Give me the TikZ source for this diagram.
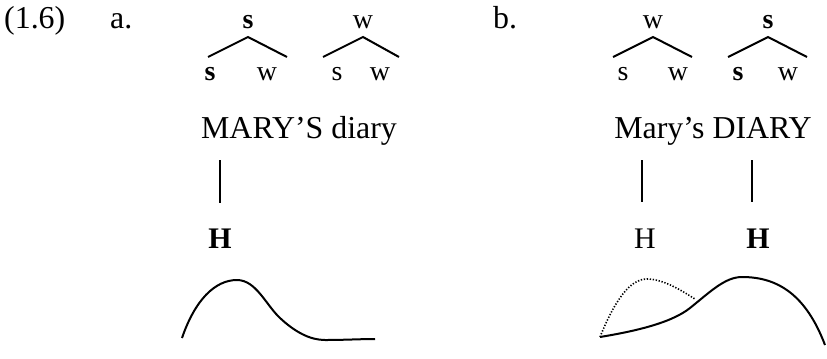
\documentclass[tikz,border=0pt]{standalone}
\usepackage{fontspec}
\setmainfont{Liberation Serif}
\begin{document}
\begin{tikzpicture}[x=1bp,y=-1bp,
  txt/.style={font=\fontsize{32}{36}\selectfont, inner sep=0pt, anchor=base},
  lab/.style={font=\fontsize{28}{32}\selectfont, inner sep=0pt, anchor=base},
  tone/.style={font=\fontsize{30}{34}\selectfont, inner sep=0pt, anchor=base},
  branch/.style={line width=2bp},
  assoc/.style={line width=1.7bp},
  contour/.style={line width=2bp},
  alt/.style={line width=1.6bp, dash pattern=on 1.3bp off 1.7bp}]
\useasboundingbox (0,0) rectangle (827,358);
% labels
\node[txt, anchor=base west] (ex) at (4,28) {(1.6)};
\node[txt, anchor=base west] (la) at (110,28) {a.};
\node[txt, anchor=base west] (lb) at (493,28) {b.};
% --- a: trees
\node[lab] (a1top) at (248,28) {\textbf{s}};
\coordinate (a1apex) at (248,37);
\coordinate (a1l) at (208,57);
\coordinate (a1r) at (287,57);
\draw[branch] (a1l) -- (a1apex) -- (a1r);
\node[lab] (a1s) at (210,80) {\textbf{s}};
\node[lab] (a1w) at (267,80) {w};
\node[lab] (a2top) at (363,28) {w};
\coordinate (a2apex) at (363,37);
\coordinate (a2l) at (323,57);
\coordinate (a2r) at (399,57);
\draw[branch] (a2l) -- (a2apex) -- (a2r);
\node[lab] (a2s) at (337,80) {s};
\node[lab] (a2w) at (380,80) {w};
\node[txt] (aphrase) at (299,138) {MARY’S diary};
\coordinate (at1) at (220,160);
\coordinate (ab1) at (220,203);
\draw[assoc] (at1) -- (ab1);
\node[tone] (aH) at (220,248) {\textbf{H}};
\coordinate (ac0) at (182,338);
\coordinate (ac1) at (237,280);
\coordinate (ac2) at (280,318);
\coordinate (ac3) at (325,340);
\coordinate (ac4) at (375,339);
\draw[contour] (ac0) .. controls (195,300) and (215,280) .. (ac1)
  .. controls (256,280) and (266,305) .. (ac2)
  .. controls (295,332) and (310,340) .. (ac3)
  .. controls (345,340) and (360,339) .. (ac4);
% --- b: trees
\node[lab] (b1top) at (653,28) {w};
\coordinate (b1apex) at (653,37);
\coordinate (b1l) at (613,57);
\coordinate (b1r) at (692,57);
\draw[branch] (b1l) -- (b1apex) -- (b1r);
\node[lab] (b1s) at (623,80) {s};
\node[lab] (b1w) at (678,80) {w};
\node[lab] (b2top) at (768,28) {\textbf{s}};
\coordinate (b2apex) at (768,37);
\coordinate (b2l) at (728,57);
\coordinate (b2r) at (807,57);
\draw[branch] (b2l) -- (b2apex) -- (b2r);
\node[lab] (b2s) at (738,80) {\textbf{s}};
\node[lab] (b2w) at (788,80) {w};
\node[txt] (bphrase) at (713,138) {Mary’s DIARY};
\coordinate (bt1) at (642,160);
\coordinate (bb1) at (642,202);
\coordinate (bt2) at (752,160);
\coordinate (bb2) at (752,202);
\draw[assoc] (bt1) -- (bb1);
\draw[assoc] (bt2) -- (bb2);
\node[tone] (bH1) at (645,248) {H};
\node[tone] (bH2) at (758,248) {\textbf{H}};
\coordinate (bc0) at (600,337);
\coordinate (bc1) at (690,308);
\coordinate (bc2) at (742,277);
\coordinate (bc3) at (825,345);
\draw[contour] (bc0) .. controls (630,332) and (670,324) .. (bc1)
  .. controls (710,292) and (725,277) .. (bc2)
  .. controls (778,277) and (806,295) .. (bc3);
\coordinate (bd1) at (647,279);
\coordinate (bd2) at (695,299);
\draw[alt] (bc0) .. controls (615,300) and (630,279) .. (bd1)
  .. controls (665,279) and (685,293) .. (bd2);
\end{tikzpicture}
\end{document}
